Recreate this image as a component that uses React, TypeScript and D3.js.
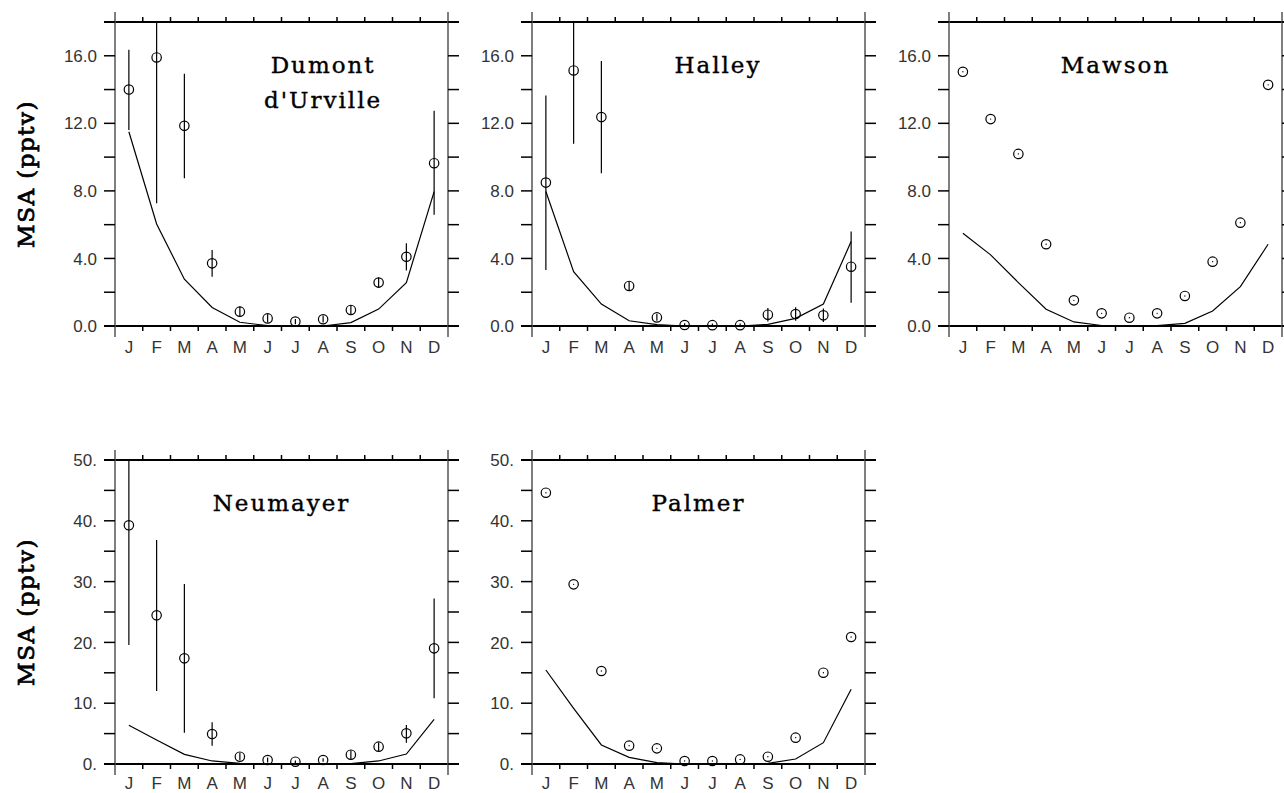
import React from "react";
import * as d3 from "d3";

const months = ["J", "F", "M", "A", "M", "J", "J", "A", "S", "O", "N", "D"];

const ticksSmall = [0, 4, 8, 12, 16];
const minorSmall = [2, 6, 10, 14, 18];
const ticksLarge = [0, 10, 20, 30, 40, 50];
const minorLarge = [5, 15, 25, 35, 45];

const dumontObs = [14.0, 15.9, 11.85, 3.71, 0.85, 0.45, 0.26, 0.4, 0.95, 2.57, 4.1, 9.64];
const dumontLo = [11.6, 7.27, 8.75, 2.92, 0.55, 0.2, 0.11, 0.2, 0.65, 2.27, 3.28, 6.58];
const dumontHi = [16.36, 18.0, 14.93, 4.5, 1.15, 0.7, 0.41, 0.6, 1.25, 2.87, 4.9, 12.74];
const dumontModel = [11.5, 6.04, 2.77, 1.1, 0.22, 0.02, 0, 0, 0.2, 1.0, 2.57, 7.96];

const halleyObs = [8.49, 15.13, 12.37, 2.37, 0.51, 0.06, 0.05, 0.05, 0.67, 0.71, 0.63, 3.51];
const halleyLo = [3.32, 10.79, 9.05, 2.12, 0.31, 0, 0, 0, 0.27, 0.31, 0.23, 1.38];
const halleyHi = [13.65, 18.0, 15.69, 2.62, 0.71, 0.16, 0.15, 0.15, 1.07, 1.11, 1.03, 5.59];
const halleyModel = [7.96, 3.22, 1.3, 0.31, 0.08, 0, 0, 0, 0.1, 0.45, 1.3, 5.0];

const mawsonObs = [15.05, 12.25, 10.19, 4.84, 1.52, 0.75, 0.49, 0.75, 1.78, 3.81, 6.12, 14.28];
const mawsonModel = [5.49, 4.21, 2.57, 0.99, 0.24, 0.03, 0, 0.02, 0.16, 0.89, 2.33, 4.84];

const neumayerObs = [39.26, 24.45, 17.38, 4.93, 1.2, 0.66, 0.38, 0.66, 1.53, 2.85, 5.04, 19.02];
const neumayerLo = [19.57, 12.0, 5.15, 3.02, 0.6, 0.26, 0.18, 0.36, 0.83, 2.15, 3.5, 10.8];
const neumayerHi = [50, 36.84, 29.6, 6.85, 1.8, 1.06, 0.58, 0.96, 2.23, 3.55, 6.4, 27.2];
const neumayerModel = [6.36, 3.95, 1.59, 0.5, 0.1, 0, 0, 0, 0.05, 0.5, 1.64, 7.35];

const palmerObs = [44.62, 29.55, 15.3, 3.02, 2.57, 0.49, 0.49, 0.76, 1.2, 4.33, 15.02, 20.89];
const palmerModel = [15.46, 9.16, 3.13, 1.1, 0.22, 0, 0, 0, 0.1, 0.82, 3.51, 12.28];

type PanelProps = {
  left: number;
  top: number;
  title: string[];
  titlePos: number;
  yMax: number;
  major: number[];
  minor: number[];
  fmt: (v: number) => string;
  obs: number[];
  lo?: number[];
  hi?: number[];
  model: number[];
  ylabel: boolean;
  labelGap: number;
};

const W = 333;
const H = 304;

function Panel(p: PanelProps) {
  const x = d3.scaleLinear().domain([0, 12]).range([p.left, p.left + W]);
  const y = d3.scaleLinear().domain([0, p.yMax]).range([p.top + H, p.top]).clamp(true);
  const xc = (i: number) => x(i + 0.5);
  const line = d3
    .line<number>()
    .x((_, i) => xc(i))
    .y((d) => y(d));
  const bounds = d3.range(13);
  const L = p.left;
  const R = p.left + W;
  const T = p.top;
  const B = p.top + H;
  const tickFont = "'Liberation Sans', Arial, sans-serif";
  const serif = "'DejaVu Serif', serif";
  return (
    <g>
      {/* horizontal frame lines */}
      <line x1={L - 11} x2={R + 11} y1={T} y2={T} stroke="#000" strokeWidth={2} />
      <line x1={L - 11} x2={R + 11} y1={B} y2={B} stroke="#000" strokeWidth={2} />
      {/* vertical frame lines */}
      <line x1={L} x2={L} y1={T - 10} y2={B + 11} stroke="#555" strokeWidth={1.5} />
      <line x1={R} x2={R} y1={T - 10} y2={B + 11} stroke="#555" strokeWidth={1.5} />
      {/* x ticks at month boundaries */}
      {bounds.slice(1, 12).map((b) => (
        <g key={"xt" + b}>
          <line x1={x(b)} x2={x(b)} y1={T} y2={T - 5} stroke="#000" strokeWidth={1.5} />
          <line x1={x(b)} x2={x(b)} y1={B} y2={B + 5} stroke="#000" strokeWidth={1.5} />
        </g>
      ))}
      {/* y ticks */}
      {[...p.major, ...p.minor].map((v) => (
        <g key={"yt" + v}>
          <line x1={L} x2={L - 11} y1={y(v)} y2={y(v)} stroke="#000" strokeWidth={1.5} />
          <line x1={R} x2={R + 11} y1={y(v)} y2={y(v)} stroke="#000" strokeWidth={1.5} />
        </g>
      ))}
      {p.major.map((v) => (
        <text
          key={"yl" + v}
          x={L - 18}
          y={y(v)}
          dy="0.36em"
          textAnchor="end"
          fontFamily={tickFont}
          fontSize={17}
          fill="#333"
        >
          {p.fmt(v)}
        </text>
      ))}
      {months.map((m, i) => (
        <text
          key={"xl" + i}
          x={xc(i)}
          y={B + p.labelGap}
          textAnchor="middle"
          fontFamily={tickFont}
          fontSize={17}
          fill="#333"
        >
          {m}
        </text>
      ))}
      {/* model line */}
      <path d={line(p.model) || ""} fill="none" stroke="#000" strokeWidth={1.2} />
      {/* error bars */}
      {p.lo && p.hi
        ? p.obs.map((_, i) => (
            <line
              key={"eb" + i}
              x1={xc(i)}
              x2={xc(i)}
              y1={y(p.lo![i])}
              y2={y(p.hi![i])}
              stroke="#000"
              strokeWidth={1.2}
            />
          ))
        : p.obs.map((v, i) => (
            <circle key={"dot" + i} cx={xc(i)} cy={y(v)} r={0.7} fill="#000" />
          ))}
      {/* observation circles */}
      {p.obs.map((v, i) => (
        <circle
          key={"pt" + i}
          cx={xc(i)}
          cy={y(v)}
          r={4.7}
          fill="none"
          stroke="#000"
          strokeWidth={1.2}
        />
      ))}
      {/* title */}
      {p.title.map((t, k) => (
        <text
          key={"ti" + k}
          x={x(p.titlePos)}
          y={T + 51 + k * 35}
          textAnchor="middle"
          fontFamily={serif}
          fontSize={23}
          letterSpacing={2}
          stroke="#000"
          strokeWidth={0.4}
          fill="#000"
        >
          {t}
        </text>
      ))}
      {p.ylabel && (
        <text
          transform={`translate(${L - 89},${(T + B) / 2}) rotate(-90)`}
          textAnchor="middle"
          dy="0.35em"
          fontFamily={serif}
          fontSize={23}
          letterSpacing={1.5}
          stroke="#000"
          strokeWidth={0.8}
          fill="#000"
        >
          MSA (pptv)
        </text>
      )}
    </g>
  );
}

export default function App() {
  const f1 = d3.format(".1f");
  const f0 = (v: number) => `${v}.`;
  return (
    <svg
      width={1284}
      height={793}
      style={{ position: "absolute", left: 0, top: 0, background: "#fff" }}
    >
      <rect width={1284} height={793} fill="#fff" />
      <Panel
        left={115}
        top={22}
        title={["Dumont", "d'Urville"]}
        titlePos={7.5}
        yMax={18}
        major={ticksSmall}
        minor={minorSmall}
        fmt={f1}
        obs={dumontObs}
        lo={dumontLo}
        hi={dumontHi}
        model={dumontModel}
        ylabel={true}
        labelGap={27}
      />
      <Panel
        left={532}
        top={22}
        title={["Halley"]}
        titlePos={6.7}
        yMax={18}
        major={ticksSmall}
        minor={minorSmall}
        fmt={f1}
        obs={halleyObs}
        lo={halleyLo}
        hi={halleyHi}
        model={halleyModel}
        ylabel={false}
        labelGap={27}
      />
      <Panel
        left={949}
        top={22}
        title={["Mawson"]}
        titlePos={6}
        yMax={18}
        major={ticksSmall}
        minor={minorSmall}
        fmt={f1}
        obs={mawsonObs}
        model={mawsonModel}
        ylabel={false}
        labelGap={27}
      />
      <Panel
        left={115}
        top={460}
        title={["Neumayer"]}
        titlePos={6}
        yMax={50}
        major={ticksLarge}
        minor={minorLarge}
        fmt={f0}
        obs={neumayerObs}
        lo={neumayerLo}
        hi={neumayerHi}
        model={neumayerModel}
        ylabel={true}
        labelGap={24.5}
      />
      <Panel
        left={532}
        top={460}
        title={["Palmer"]}
        titlePos={6}
        yMax={50}
        major={ticksLarge}
        minor={minorLarge}
        fmt={f0}
        obs={palmerObs}
        model={palmerModel}
        ylabel={false}
        labelGap={24.5}
      />
    </svg>
  );
}
